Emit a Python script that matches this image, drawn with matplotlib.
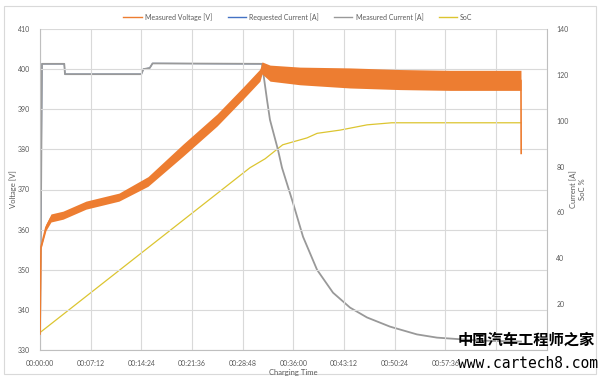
import matplotlib
matplotlib.use("Agg")
import matplotlib.pyplot as plt
from matplotlib.patches import Rectangle
from matplotlib.lines import Line2D

# ---------------- data (time in minutes) ----------------
volt_t = [0, 0.14, 0.85, 1.56, 3.27, 6.54, 11.23, 15.35, 20.33, 25.16, 28.86, 31.27, 31.56,
          32.7, 36.96, 44.07, 51.17, 58.28, 68.37, 68.40]
volt_mid = [334.0, 355.7, 360.6, 362.9, 363.6, 366.1, 368.1, 372.0, 379.8, 387.3, 394.0, 398.5, 400.3,
            399.0, 398.3, 397.8, 397.4, 397.2, 397.2, 379.0]
volt_lo = [333.7, 355.2, 359.8, 361.9, 362.6, 365.1, 367.1, 370.8, 378.3, 385.8, 392.5, 397.0, 398.8,
           397.0, 396.1, 395.3, 394.9, 394.7, 394.7, 379.0]
volt_hi = [334.3, 356.2, 361.4, 363.9, 364.6, 367.1, 369.1, 373.2, 381.3, 388.8, 395.5, 400.0, 401.8,
           401.0, 400.5, 400.3, 399.9, 399.7, 399.7, 379.0]

req_t = [0, 0.28, 3.45, 3.55, 14.4, 14.7, 15.6, 16.0, 31.56]
req_a = [0, 124.8, 124.8, 120.3, 120.3, 122.5, 123.0, 125.0, 124.8]

meas_t = [0, 0.28, 3.45, 3.55, 14.4, 14.7, 15.6, 16.0, 31.56, 32.27, 32.69, 33.83, 34.40, 35.96,
          37.39, 39.38, 41.65, 44.07, 46.48, 49.75, 53.59, 56.43, 58.28, 62.55, 68.37]
meas_a = [0, 124.8, 124.8, 120.3, 120.3, 122.5, 123.0, 125.0, 124.8, 109.1, 100.4, 87.3, 79.5, 64.2,
          49.4, 35.0, 25.0, 18.5, 14.2, 10.2, 6.8, 5.4, 5.0, 4.1, 3.7]

soc_t = [0, 29.85, 32.0, 34.5, 37.95, 39.4, 42.65, 46.5, 50.0, 68.37]
soc_p = [7.6, 79.5, 83.4, 89.5, 92.5, 94.5, 95.9, 98.2, 99.1, 99.1]

x_ticks = [0, 7.2, 14.4, 21.6, 28.8, 36.0, 43.2, 50.4, 57.6, 64.8, 72.0]
x_labels = ["00:00:00", "00:07:12", "00:14:24", "00:21:36", "00:28:48", "00:36:00",
            "00:43:12", "00:50:24", "00:57:36", "", ""]
v_ticks = [330, 340, 350, 360, 370, 380, 390, 400, 410]
r_ticks = [20, 40, 60, 80, 100, 120, 140]

# ---------------- style ----------------
C_V = "#ED7D31"
C_REQ = "#4472C4"
C_MEAS = "#999999"
C_SOC = "#DCC530"
TXT = "#595959"
GRID = "#D9D9D9"
FONT = ["Lato", "DejaVu Sans"]

plt.rcParams["font.family"] = FONT

fig = plt.figure(figsize=(6.0, 3.78), dpi=100)
ax = fig.add_axes([40 / 600, 1 - 350 / 378, (546.5 - 40) / 600, (350 - 29) / 378])
ax2 = ax.twinx()

ax.set_xlim(0, 72)
ax.set_ylim(330, 410)
ax2.set_ylim(0, 140)

ax.set_xticks(x_ticks)
ax.set_xticklabels(x_labels)
ax.set_yticks(v_ticks)
ax2.set_yticks(r_ticks)

ax.grid(True, color=GRID, lw=0.8)
ax.set_axisbelow(True)
for a in (ax, ax2):
    a.tick_params(length=0, labelsize=5, colors=TXT, pad=7)
    for s in a.spines.values():
        s.set_visible(False)
ax.spines["left"].set_visible(True)
ax.spines["left"].set_color("#BFBFBF")
ax.spines["bottom"].set_visible(True)
ax.spines["bottom"].set_color("#BFBFBF")
ax2.spines["right"].set_visible(True)
ax2.spines["right"].set_color("#BFBFBF")

# voltage (noisy band)
ax.fill_between(volt_t, volt_lo, volt_hi, color=C_V, lw=0, zorder=3)
ax.plot(volt_t, volt_mid, color=C_V, lw=1.2, zorder=3)

# currents and SoC on right axis
ax2.plot(req_t, req_a, color=C_REQ, lw=0.8, zorder=2)
ax2.plot(meas_t, meas_a, color=C_MEAS, lw=1.3, zorder=3)
ax2.plot(soc_t, soc_p, color=C_SOC, lw=0.9, zorder=2)

ax.set_zorder(2)
ax2.set_zorder(1)
ax.patch.set_visible(False)

ax.set_ylabel("Voltage [V]", fontsize=5.5, color=TXT, labelpad=1)
ax2.set_ylabel("Current [A]\nSoC %", fontsize=5.5, color=TXT, labelpad=1)
ax.set_xlabel("Charging Time", fontsize=5.5, color=TXT, labelpad=2)

# legend
handles = [Line2D([], [], color=C_V, lw=1), Line2D([], [], color=C_REQ, lw=1),
           Line2D([], [], color=C_MEAS, lw=1), Line2D([], [], color=C_SOC, lw=1)]
labels = ["Measured Voltage [V]", "Requested Current [A]", "Measured Current [A]", "SoC"]
fig.legend(handles, labels, loc="center", bbox_to_anchor=(298 / 600, 1 - 17 / 378), ncol=4,
           frameon=False, fontsize=5, labelcolor=TXT, handlelength=2.6, columnspacing=2.2,
           handletextpad=0.5)

# chart frame
fig.add_artist(Rectangle((4 / 600, 1 - 374 / 378), 592 / 600, 368 / 378, transform=fig.transFigure,
                         fill=False, edgecolor="#D9D9D9", lw=0.8))

# watermark
fig.text(526 / 600, 1 - 340 / 378, "中国汽车工程师之家", fontsize=11, color="black",
         family=["Noto Sans CJK SC", "DejaVu Sans"], weight="bold", ha="center", va="center", zorder=10)
fig.text(528 / 600, 1 - 363 / 378, "www.cartech8.com", fontsize=10.5, color="black",
         family=["DejaVu Sans Mono"], ha="center", va="center", zorder=10)

fig.savefig("out.png", dpi=100)
